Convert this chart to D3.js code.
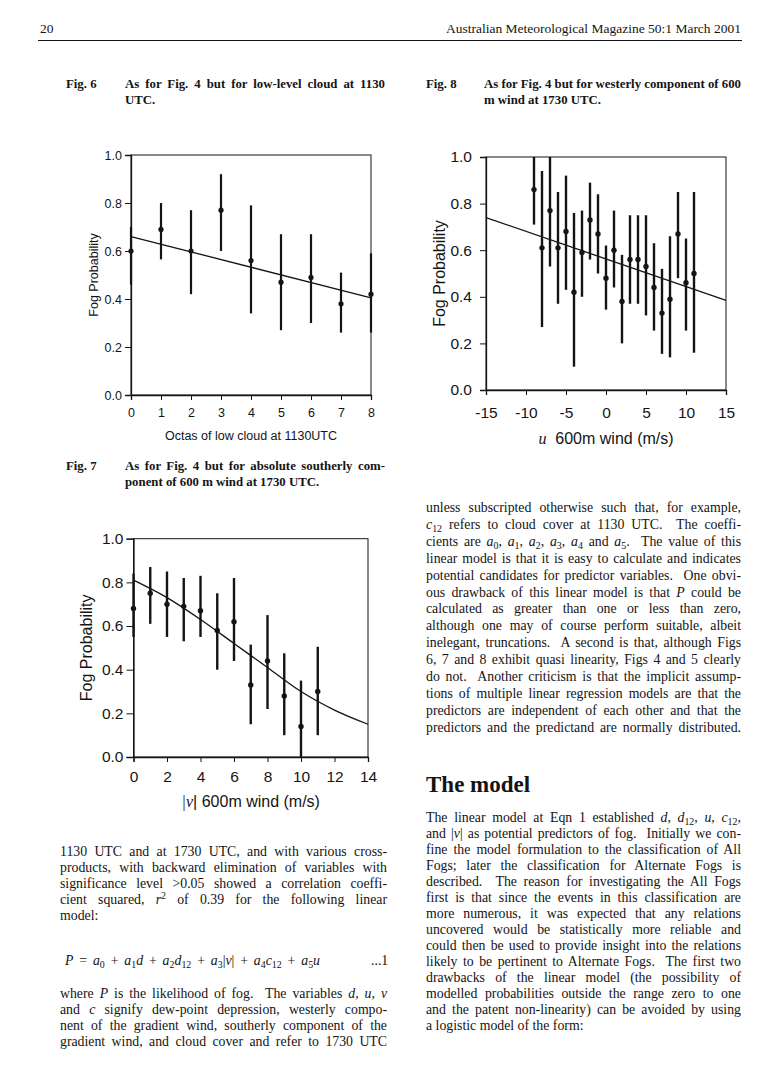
<!DOCTYPE html>
<html><head><meta charset="utf-8">
<script src="https://cdn.jsdelivr.net/npm/d3@7"></script>
<style>
body{margin:0;background:#fff}
svg{display:block}
</style></head>
<body><svg id="page" width="767" height="1072"></svg>
<script>
// ---------------- DATA ----------------
// Fig. 6 : low-level cloud at 1130 UTC
const fig6Octas = [0,1,2,3,4,5,6,7,8];
const fig6Prob  = [0.60,0.69,0.60,0.77,0.56,0.47,0.49,0.38,0.42];
const fig6Low   = [0.46,0.565,0.42,0.60,0.34,0.27,0.30,0.26,0.26];
const fig6High  = [0.70,0.80,0.77,0.92,0.79,0.67,0.67,0.51,0.59];
const fig6FitX  = [0,8];
const fig6FitY  = [0.66,0.405];
const fig6XTicks = [0,1,2,3,4,5,6,7,8];

// Fig. 7 : |v| 600 m wind at 1730 UTC
const fig7Wind = [0,1,2,3,4,5,6,7,8,9,10,11];
const fig7Prob = [0.68,0.75,0.70,0.69,0.67,0.58,0.62,0.33,0.44,0.28,0.14,0.30];
const fig7Low  = [0.55,0.61,0.55,0.53,0.55,0.40,0.44,0.15,0.22,0.10,0.0,0.10];
const fig7High = [0.84,0.87,0.85,0.82,0.83,0.75,0.82,0.515,0.65,0.475,0.35,0.505];
const fig7FitX = [0,2,4,6,8,10,12,14];
const fig7FitY = [0.81,0.73,0.63,0.52,0.41,0.30,0.215,0.15];
const fig7XTicks = [0,2,4,6,8,10,12,14];

// Fig. 8 : u 600 m wind at 1730 UTC
const fig8Wind = [-9,-8,-7,-6,-5,-4,-3,-2,-1,0,1,2,3,4,5,6,7,8,9,10,11];
const fig8Prob = [0.86,0.61,0.77,0.61,0.68,0.42,0.59,0.73,0.67,0.48,0.60,0.38,0.56,0.56,0.53,0.44,0.33,0.39,0.67,0.46,0.50];
const fig8Low  = [0.71,0.27,0.53,0.37,0.43,0.10,0.40,0.56,0.50,0.345,0.44,0.20,0.37,0.37,0.32,0.255,0.155,0.14,0.48,0.255,0.16];
const fig8High = [1.0,0.94,1.0,0.85,0.92,0.76,0.77,0.89,0.84,0.62,0.77,0.58,0.75,0.75,0.75,0.63,0.52,0.66,0.85,0.65,0.85];
const fig8FitX = [-15,15];
const fig8FitY = [0.74,0.385];
const fig8XTicks = [-15,-10,-5,0,5,10,15];

const probTicks = [0,0.2,0.4,0.6,0.8,1.0];

// ---------------- TEXT ----------------
const headerLeft = "20";
const headerRight = "Australian Meteorological Magazine 50:1 March 2001";

const leftTextA = [
  ["1130 UTC and at 1730 UTC, and with various cross-", true],
  ["products, with backward elimination of variables with", true],
  ["significance level >0.05 showed a correlation coeffi-", true],
  ["cient squared, *r*^{2} of 0.39 for the following linear", true],
  ["model:", false]
];
const equation = "*P* = *a*_{0} + *a*_{1}*d* + *a*_{2}*d*_{12} + *a*_{3}|*v*| + *a*_{4}*c*_{12} + *a*_{5}*u*";
const leftTextB = [
  ["where *P* is the likelihood of fog.  The variables *d, u, v*", true],
  ["and *c* signify dew-point depression, westerly compo-", true],
  ["nent of the gradient wind, southerly component of the", true],
  ["gradient wind, and cloud cover and refer to 1730 UTC", true]
];
const rightTextA = [
  ["unless subscripted otherwise such that, for example,", true],
  ["*c*_{12} refers to cloud cover at 1130 UTC.  The coeffi-", true],
  ["cients are *a*_{0}, *a*_{1}, *a*_{2}, *a*_{3}, *a*_{4} and *a*_{5}.  The value of this", true],
  ["linear model is that it is easy to calculate and indicates", true],
  ["potential candidates for predictor variables.  One obvi-", true],
  ["ous drawback of this linear model is that *P* could be", true],
  ["calculated as greater than one or less than zero,", true],
  ["although one may of course perform suitable, albeit", true],
  ["inelegant, truncations.  A second is that, although Figs", true],
  ["6, 7 and 8 exhibit quasi linearity, Figs 4 and 5 clearly", true],
  ["do not.  Another criticism is that the implicit assump-", true],
  ["tions of multiple linear regression models are that the", true],
  ["predictors are independent of each other and that the", true],
  ["predictors and the predictand are normally distributed.", true]
];
const rightTextB = [
  ["The linear model at Eqn 1 established *d*, *d*_{12}, *u*, *c*_{12},", true],
  ["and |*v*| as potential predictors of fog.  Initially we con-", true],
  ["fine the model formulation to the classification of All", true],
  ["Fogs; later the classification for Alternate Fogs is", true],
  ["described.  The reason for investigating the All Fogs", true],
  ["first is that since the events in this classification are", true],
  ["more numerous, it was expected that any relations", true],
  ["uncovered would be statistically more reliable and", true],
  ["could then be used to provide insight into the relations", true],
  ["likely to be pertinent to Alternate Fogs.  The first two", true],
  ["drawbacks of the linear model (the possibility of", true],
  ["modelled probabilities outside the range zero to one", true],
  ["and the patent non-linearity) can be avoided by using", true],
  ["a logistic model of the form:", false]
];

// ---------------- DRAW ----------------
const svg = d3.select("#page");
const INK = "#141414";
const SERIF = "'Liberation Serif','Times New Roman',serif";
const SANS = "'Liberation Sans',Arial,sans-serif";

svg.append("rect").attr("width",767).attr("height",1072).attr("fill","#fff");

function parse(str){
  const segs=[]; let i=0, cur="", italic=false;
  while(i<str.length){
    const ch=str[i];
    if(ch==='*'){ if(cur) segs.push({t:cur,it:italic}); cur=""; italic=!italic; i++; }
    else if((ch==='_'||ch==='^') && str[i+1]==='{'){
      if(cur) segs.push({t:cur,it:italic}); cur="";
      const end=str.indexOf('}',i);
      segs.push({t:str.slice(i+2,end),it:false,shift:ch==='_'?'sub':'sup'});
      i=end+1;
    } else { cur+=ch; i++; }
  }
  if(cur) segs.push({t:cur,it:italic});
  return segs;
}

function richText(parent, str, x, y, opts){
  const fs = opts.size;
  const t = parent.append("text").attr("x",x).attr("y",y)
    .attr("font-family",opts.family||SERIF).attr("font-size",fs)
    .attr("font-weight",opts.weight||"normal").attr("fill",INK)
    .style("white-space","pre");
  let off = 0;
  parse(str).forEach(s=>{
    const ts = t.append("tspan").text(s.t);
    if(s.it) ts.attr("font-style","italic");
    let target = 0;
    if(s.shift==='sub'){ target = fs*0.25; ts.attr("font-size",fs*0.72); }
    if(s.shift==='sup'){ target = -fs*0.36; ts.attr("font-size",fs*0.72); }
    if(target!==off){ ts.attr("dy",target-off); off=target; }
  });
  if(opts.width){
    const natural = t.node().getComputedTextLength();
    const spaces = (str.replace(/_\{[^}]*\}|\^\{[^}]*\}|\*/g,"").match(/ /g)||[]).length;
    if(spaces>0) t.style("word-spacing",Math.max(-1,(opts.width-natural)/spaces)+"px");
  }
  return t;
}

function block(lines, x, y0, lh, width, size){
  lines.forEach((l,i)=>{
    richText(svg, l[0], x, y0+i*lh, {size:size, width: l[1]?width:null});
  });
}

// header
svg.append("text").attr("x",40).attr("y",33).attr("font-family",SERIF).attr("font-size",13.5).attr("fill",INK).text(headerLeft);
svg.append("text").attr("x",741).attr("y",33).attr("text-anchor","end").attr("font-family",SERIF).attr("font-size",13.5).attr("fill",INK).text(headerRight);
svg.append("line").attr("x1",38).attr("x2",742).attr("y1",40.5).attr("y2",40.5).attr("stroke",INK).attr("stroke-width",1.2);

// captions
function caption(label, lines, x, xt, y, width){
  svg.append("text").attr("x",x).attr("y",y).attr("font-family",SERIF).attr("font-weight","bold").attr("font-size",12.8).attr("fill",INK).text(label);
  lines.forEach((l,i)=>richText(svg,l[0],xt,y+i*15.5,{size:12.8,weight:"bold",width:l[1]?width:null}));
}
caption("Fig. 6", [["As for Fig. 4 but for low-level cloud at 1130",true],["UTC.",false]], 66, 125, 88, 260);
caption("Fig. 8", [["As for Fig. 4 but for westerly component of 600",true],["m wind at 1730 UTC.",false]], 426, 484, 88, 257);
caption("Fig. 7", [["As for Fig. 4 but for absolute southerly com-",true],["ponent of 600 m wind at 1730 UTC.",false]], 66, 125, 470, 260);

// charts
function chart(c){
  const g = svg.append("g");
  const x = d3.scaleLinear().domain(c.xDomain).range([c.left,c.right]);
  const y = d3.scaleLinear().domain([0,1]).range([c.bottom,c.top]);
  g.append("rect").attr("x",c.left).attr("y",c.top).attr("width",c.right-c.left).attr("height",c.bottom-c.top)
    .attr("fill","none").attr("stroke",INK).attr("stroke-width",1);
  const xa = g.append("g").attr("transform",`translate(0,${c.bottom})`)
    .call(d3.axisBottom(x).tickValues(c.xTicks).tickSize(c.xTick).tickPadding(c.xPad).tickFormat(d=>String(d)));
  const ya = g.append("g").attr("transform",`translate(${c.left},0)`)
    .call(d3.axisLeft(y).tickValues(probTicks).tickSize(c.yTick).tickPadding(c.yPad).tickFormat(d3.format(".1f")));
  [xa,ya].forEach(a=>{
    a.select(".domain").attr("stroke",INK).attr("stroke-width",1.3);
    a.selectAll(".tick line").attr("stroke",INK).attr("stroke-width",1);
    a.selectAll(".tick text").attr("font-family",SANS).attr("font-size",c.tickFont).attr("fill",INK);
  });
  // fitted curve
  const pts = c.fitX.map((v,i)=>[v,c.fitY[i]]);
  g.append("path").attr("d",d3.line().x(d=>x(d[0])).y(d=>y(d[1])).curve(d3.curveMonotoneX)(pts))
    .attr("fill","none").attr("stroke",INK).attr("stroke-width",1.3);
  // error bars
  c.xs.forEach((v,i)=>{
    g.append("line").attr("x1",x(v)).attr("x2",x(v)).attr("y1",y(c.lo[i])).attr("y2",y(c.hi[i]))
      .attr("stroke",INK).attr("stroke-width",c.barW);
    g.append("circle").attr("cx",x(v)).attr("cy",y(c.ys[i])).attr("r",c.dotR).attr("fill",INK);
  });
  // titles
  const xt = g.append("text").attr("x",(c.left+c.right)/2).attr("y",c.xTitleY).attr("text-anchor","middle")
    .attr("font-family",SANS).attr("font-size",c.titleFont).attr("fill",INK).style("white-space","pre");
  c.xTitle.forEach(s=>{
    const ts = xt.append("tspan").text(s[0]);
    if(s[1]) ts.attr("font-family",SERIF).attr("font-style","italic");
  });
  g.append("text").attr("transform",`translate(${c.yTitleX},${(c.top+c.bottom)/2 + c.yTitleDy}) rotate(-90)`)
    .attr("text-anchor","middle").attr("font-family",SANS).attr("font-size",c.titleFont).attr("fill",INK)
    .text("Fog Probability");
}

chart({left:131,right:371,top:155,bottom:395,xDomain:[0,8],xTicks:fig6XTicks,
  xs:fig6Octas,ys:fig6Prob,lo:fig6Low,hi:fig6High,fitX:fig6FitX,fitY:fig6FitY,
  xTick:5,xPad:8,yTick:6,yPad:3,tickFont:12.5,titleFont:12.5,barW:2.2,dotR:2.6,
  xTitle:[["Octas of low cloud at 1130UTC",false]],xTitleY:440,yTitleX:98,yTitleDy:0});

chart({left:486,right:726,top:157,bottom:390,xDomain:[-15,15],xTicks:fig8XTicks,
  xs:fig8Wind,ys:fig8Prob,lo:fig8Low,hi:fig8High,fitX:fig8FitX,fitY:fig8FitY,
  xTick:5,xPad:12,yTick:6,yPad:8,tickFont:15.5,titleFont:16,barW:2.4,dotR:2.7,
  xTitle:[["u",true],["  600m wind (m/s)",false]],xTitleY:444,yTitleX:445,yTitleDy:0});

chart({left:133.5,right:368,top:538.7,bottom:757,xDomain:[0,14],xTicks:fig7XTicks,
  xs:fig7Wind,ys:fig7Prob,lo:fig7Low,hi:fig7High,fitX:fig7FitX,fitY:fig7FitY,
  xTick:5,xPad:9,yTick:7,yPad:3,tickFont:15.5,titleFont:16,barW:2.4,dotR:2.7,
  xTitle:[["|",true],["v",true],["| 600m wind (m/s)",false]],xTitleY:807,yTitleX:92,yTitleDy:0});

// body text
const BODY = 13.8;
block(rightTextA, 426, 512, 16.9, 315, BODY);
svg.append("text").attr("x",426).attr("y",792).attr("font-family",SERIF).attr("font-weight","bold")
  .attr("font-size",23).attr("fill",INK).text("The model");
block(rightTextB, 426, 822, 16, 315, BODY);
block(leftTextA, 60, 856, 16, 327, BODY);
richText(svg, equation, 65, 965, {size:BODY, width:255});
svg.append("text").attr("x",371).attr("y",965).attr("font-family",SERIF).attr("font-size",BODY).attr("fill",INK).text("...1");
block(leftTextB, 60, 998, 16, 327, BODY);
</script>
</body></html>
